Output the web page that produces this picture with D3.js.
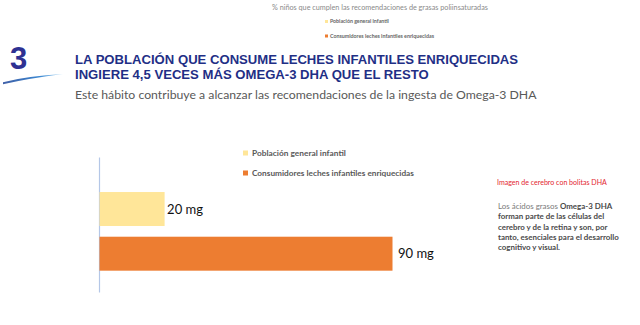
<!DOCTYPE html>
<html>
<head>
<meta charset="utf-8">
<script src="https://cdn.jsdelivr.net/npm/d3@7"></script>
<style>
  html, body { margin: 0; padding: 0; background: #ffffff; }
  svg { display: block; }
</style>
</head>
<body>
<div id="chart"></div>
<script>
// ---- Data ----
const categories = ["Población general infantil", "Consumidores leches infantiles enriquecidas"];
const values = [20, 90];
const valueLabels = ["20 mg", "90 mg"];
const topTitle = "% niños que cumplen las recomendaciones de grasas poliinsaturadas";
const topLegend = ["Población general infantil", "Consumidores leches infantiles enriquecidas"];
const sectionNumber = "3";
const headingLines = ["LA POBLACIÓN QUE CONSUME LECHES INFANTILES ENRIQUECIDAS", "INGIERE 4,5 VECES MÁS OMEGA-3 DHA QUE EL RESTO"];
const subtitle = "Este hábito contribuye a alcanzar las recomendaciones de la ingesta de Omega-3 DHA";
const imageNote = "Imagen de cerebro con bolitas DHA";
const noteLines = [
  [["Los ácidos grasos ", false], ["Omega-3 DHA", true]],
  [["forman parte de las células del", true]],
  [["cerebro y de la retina y son, por", true]],
  [["tanto, esenciales para el desarrollo", true]],
  [["cognitivo y visual.", true]]
];

// ---- Styles ----
const colors = ["#FFE699", "#ED7D31"];
const W = 640, H = 325;

const svg = d3.select("#chart").append("svg")
  .attr("width", W).attr("height", H);
svg.append("rect").attr("width", W).attr("height", H).attr("fill", "#ffffff");

// fit text font-size so rendered width matches a target width
function fitWidth(sel, target, base) {
  const node = sel.node();
  const w = node.getComputedTextLength();
  if (w > 0) sel.style("font-size", (base * target / w).toFixed(2) + "px");
  return sel;
}

// ---- Top faded title & legend ----
fitWidth(svg.append("text").attr("x", 272).attr("y", 10)
  .style("font-family", "Lato, 'Open Sans', sans-serif").style("font-size", "7.5px")
  .attr("fill", "#8a8a8a").text(topTitle), 216, 7.5);

const topLegY = [21.5, 36];
const topLegW = [59, 104];
topLegend.forEach((t, i) => {
  svg.append("rect").attr("x", 325).attr("y", topLegY[i] - 1.5).attr("width", 3).attr("height", 3)
    .attr("fill", colors[i]);
  fitWidth(svg.append("text").attr("x", 330).attr("y", topLegY[i] + 1.8)
    .style("font-family", "Lato, sans-serif").style("font-weight", "700").style("font-size", "5px")
    .attr("fill", "#666").text(t), topLegW[i], 5);
});

// ---- Section number and swoosh ----
svg.append("text").attr("x", 10).attr("y", 69)
  .style("font-family", "'Liberation Sans', Arial, sans-serif").style("font-size", "31px")
  .style("font-weight", "700")
  .attr("fill", "#2e3192").text(sectionNumber);

const grad = svg.append("defs").append("linearGradient").attr("id", "sw")
  .attr("x1", "0%").attr("x2", "100%");
grad.append("stop").attr("offset", "0%").attr("stop-color", "#2b4f9e").attr("stop-opacity", 0.9);
grad.append("stop").attr("offset", "60%").attr("stop-color", "#3a86d0");
grad.append("stop").attr("offset", "100%").attr("stop-color", "#7fc2ee").attr("stop-opacity", 0.7);
svg.append("path")
  .attr("d", "M3,82.2 Q28,75.8 63,74 Q30,78.2 3,84.2 Z")
  .attr("fill", "url(#sw)");

// ---- Heading ----
const headY = [63.5, 78.5];
const headW = [443, 357];
const headSel = headingLines.map((t, i) => svg.append("text").attr("x", 75).attr("y", headY[i])
    .style("font-family", "'Liberation Sans', Arial, sans-serif").style("font-weight", "700")
    .style("font-size", "13.5px").attr("fill", "#1f2f86").text(t));
fitWidth(headSel[0], headW[0], 13.5);
headSel[1].style("font-size", headSel[0].style("font-size"));

// ---- Subtitle ----
fitWidth(svg.append("text").attr("x", 75).attr("y", 98.5)
  .style("font-family", "Lato, 'Open Sans', sans-serif").style("font-size", "14px")
  .attr("fill", "#595959").text(subtitle), 462, 14);

// ---- Bar chart ----
const x = d3.scaleLinear().domain([0, 90]).range([99, 392]);
const y = d3.scaleBand().domain(categories).range([181.3, 281.4]).padding(0.24);

// vertical category axis line
const yAxisScale = d3.scaleLinear().domain([0, 1]).range([157, 292]);
const axisG = svg.append("g").attr("transform", `translate(${x(0)},0)`)
  .call(d3.axisLeft(yAxisScale).tickValues([]).tickSizeOuter(0));
axisG.select(".domain").attr("stroke", "#b4c7e7").attr("stroke-width", 1.2);

svg.append("g").selectAll("rect.bar").data(categories).join("rect")
  .attr("class", "bar")
  .attr("x", x(0) + 0.5)
  .attr("y", d => y(d))
  .attr("width", (d, i) => x(values[i]) - x(0))
  .attr("height", y.bandwidth())
  .attr("fill", (d, i) => colors[i]);

svg.append("g").selectAll("text.val").data(categories).join("text")
  .attr("class", "val")
  .attr("x", (d, i) => x(values[i]) + (i === 0 ? 3 : 6))
  .attr("y", d => y(d) + y.bandwidth() / 2 + 4.5)
  .style("font-family", "Lato, 'Open Sans', sans-serif").style("font-size", "13px")
  .attr("fill", "#111").text((d, i) => valueLabels[i]);

// legend
const legY = [153, 173];
const legW = [94, 162];
categories.forEach((c, i) => {
  svg.append("rect").attr("x", 243).attr("y", legY[i] - 2.5).attr("width", 5).attr("height", 5)
    .attr("fill", colors[i]);
  fitWidth(svg.append("text").attr("x", 252).attr("y", legY[i] + 3)
    .style("font-family", "Lato, sans-serif").style("font-weight", "700").style("font-size", "8.5px")
    .attr("fill", "#595959").text(c), legW[i], 8.5);
});

// ---- Right side note ----
fitWidth(svg.append("text").attr("x", 497).attr("y", 184.5)
  .style("font-family", "Lato, sans-serif").style("font-size", "7.5px")
  .attr("fill", "#e3262f").text(imageNote), 110, 7.5);

const noteY = [209, 219.3, 229.6, 239.9, 250.2];
const noteG = svg.append("g");
const lineSel = [];
noteLines.forEach((parts, i) => {
  const t = noteG.append("text").attr("x", 498).attr("y", noteY[i])
    .style("font-family", "Lato, sans-serif").style("font-size", "8.5px");
  parts.forEach(([txt, bold]) => {
    t.append("tspan").text(txt)
      .style("font-weight", bold ? "700" : "400")
      .attr("fill", bold ? "#4a4a4a" : "#7a7a7a");
  });
  lineSel.push(t);
});
// size all note lines based on the widest line
const w4 = lineSel[3].node().getComputedTextLength();
const noteSize = 8.5 * 121 / w4;
lineSel.forEach(t => t.style("font-size", noteSize.toFixed(2) + "px"));
</script>
</body>
</html>
